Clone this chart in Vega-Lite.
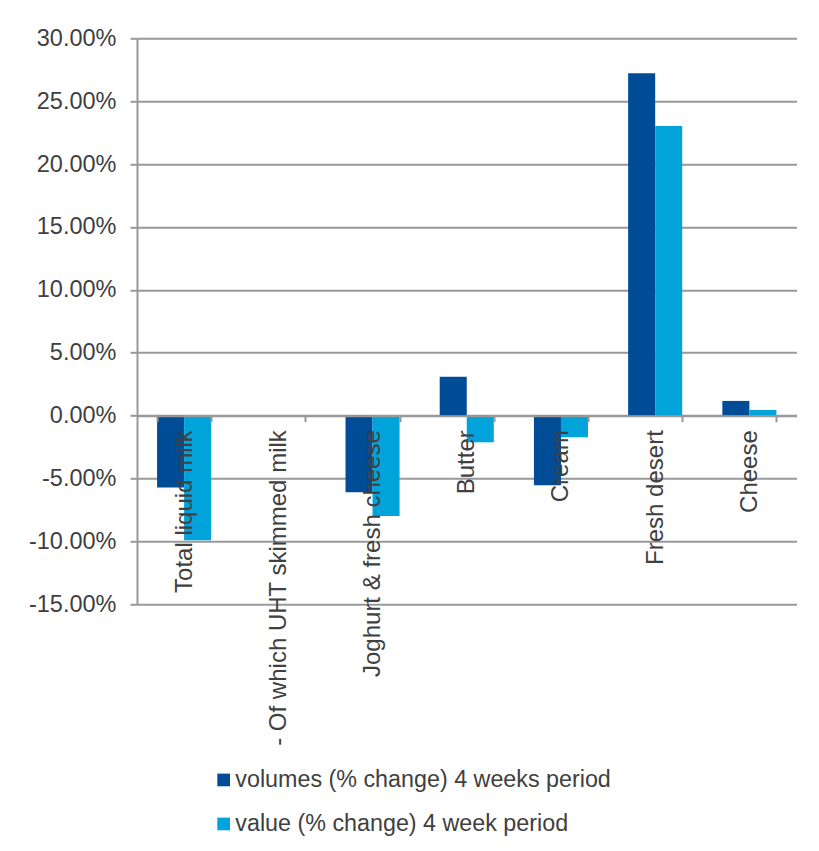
{
  "$schema": "https://vega.github.io/schema/vega-lite/v6.json",
  "width": 659.5,
  "height": 566,
  "autosize": {"type": "none"},
  "padding": {"left": 137, "top": 38.3, "right": 22.5, "bottom": 246.7},
  "background": "white",
  "config": {"view": {"stroke": null}, "font": "Liberation Sans"},
  "data": {
    "values": [
      {"category": "Total liquid milk", "series": "volumes (% change) 4 weeks period", "value": -0.0572},
      {"category": "Total liquid milk", "series": "value (% change) 4 week period", "value": -0.0991},
      {"category": "- Of which UHT skimmed milk", "series": "volumes (% change) 4 weeks period", "value": null},
      {"category": "- Of which UHT skimmed milk", "series": "value (% change) 4 week period", "value": null},
      {"category": "Joghurt & fresh cheese", "series": "volumes (% change) 4 weeks period", "value": -0.0609},
      {"category": "Joghurt & fresh cheese", "series": "value (% change) 4 week period", "value": -0.0797},
      {"category": "Butter", "series": "volumes (% change) 4 weeks period", "value": 0.031},
      {"category": "Butter", "series": "value (% change) 4 week period", "value": -0.0212},
      {"category": "Cream", "series": "volumes (% change) 4 weeks period", "value": -0.0553},
      {"category": "Cream", "series": "value (% change) 4 week period", "value": -0.0172},
      {"category": "Fresh desert", "series": "volumes (% change) 4 weeks period", "value": 0.2722},
      {"category": "Fresh desert", "series": "value (% change) 4 week period", "value": 0.2303},
      {"category": "Cheese", "series": "volumes (% change) 4 weeks period", "value": 0.0117},
      {"category": "Cheese", "series": "value (% change) 4 week period", "value": 0.0045}
    ]
  },
  "mark": {"type": "bar"},
  "encoding": {
    "x": {
      "field": "category",
      "type": "nominal",
      "sort": null,
      "scale": {
        "domain": ["Total liquid milk", "- Of which UHT skimmed milk", "Joghurt & fresh cheese", "Butter", "Cream", "Fresh desert", "Cheese"],
        "paddingInner": 0.426,
        "paddingOuter": 0.213
      },
      "axis": {
        "title": null,
        "orient": "bottom",
        "offset": -188.6,
        "tickBand": "extent",
        "tickSize": 6,
        "tickColor": "#999999",
        "tickWidth": 2,
        "domainColor": "#999999",
        "domainWidth": 2,
        "labelAngle": 270,
        "labelAlign": "right",
        "labelBaseline": "middle",
        "labelPadding": 8,
        "labelFontSize": 24,
        "labelColor": "#404040",
        "labelLimit": 0,
        "grid": false,
        "zindex": 1
      }
    },
    "xOffset": {
      "field": "series",
      "type": "nominal",
      "sort": ["volumes (% change) 4 weeks period", "value (% change) 4 week period"],
      "scale": {"paddingInner": 0, "paddingOuter": 0}
    },
    "y": {
      "field": "value",
      "type": "quantitative",
      "scale": {"domain": [-0.15, 0.3], "nice": false, "zero": false},
      "axis": {
        "title": null,
        "values": [-0.15, -0.1, -0.05, 0, 0.05, 0.1, 0.15, 0.2, 0.25, 0.3],
        "format": ".2%",
        "labelExpr": "replace(datum.label, '\u2212', '-')",
        "tickSize": 7,
        "tickColor": "#999999",
        "tickWidth": 2,
        "domainColor": "#999999",
        "domainWidth": 2,
        "grid": true,
        "gridColor": "#999999",
        "gridWidth": 2,
        "labelFontSize": 23.5,
        "labelColor": "#404040",
        "labelPadding": 14
      }
    },
    "color": {
      "field": "series",
      "type": "nominal",
      "scale": {
        "domain": ["volumes (% change) 4 weeks period", "value (% change) 4 week period"],
        "range": ["#004C97", "#00A3DA"]
      },
      "legend": {
        "orient": "none",
        "legendX": 75,
        "legendY": 730,
        "title": null,
        "direction": "vertical",
        "symbolType": "square",
        "symbolSize": 160,
        "symbolStrokeWidth": 0,
        "labelFontSize": 23.3,
        "labelColor": "#404040",
        "labelOffset": 0,
        "labelLimit": 0,
        "rowPadding": 20
      }
    }
  }
}
